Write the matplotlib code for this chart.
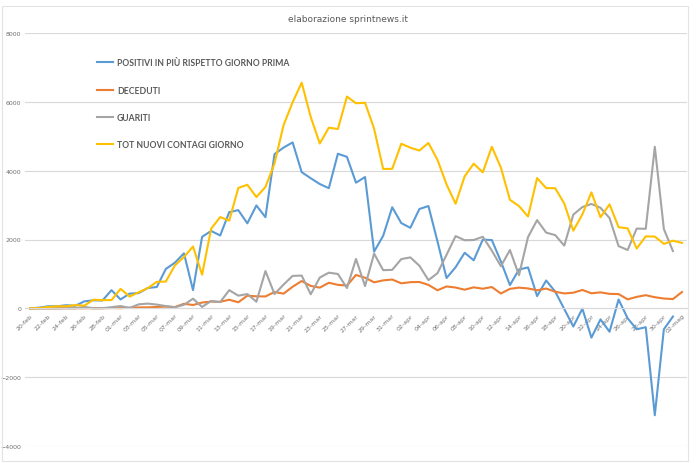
import numpy as np
import matplotlib
matplotlib.use("Agg")
import matplotlib.pyplot as plt
from matplotlib.patches import Rectangle

# date labels 20-feb .. 02-mag (2020)
months = [("feb", 20, 29), ("mar", 1, 31), ("apr", 1, 30), ("mag", 1, 2)]
dates = ["%02d-%s" % (d, m) for m, a, b in months for d in range(a, b + 1)]

# daily series (blue / grey start one slot earlier)
positivi = [0, 20, 60, 60, 90, 74, 203, 233, 228, 528, 258, 428, 443, 590, 620,
            1145, 1326, 1598, 529, 2076, 2249, 2116, 2795, 2853, 2470, 2989,
            2648, 4480, 4670, 4821, 3957, 3780, 3612, 3491, 4492, 4401, 3651,
            3815, 1648, 2107, 2937, 2477, 2339, 2886, 2972, 1941, 880, 1195,
            1615, 1396, 1996, 1984, 1363, 675, 1127, 1189, 355, 809, 486, -20,
            -528, -10, -851, -321, -680, 256, -290, -608, -548, -3106, -608,
            -239]
guariti = [0, 0, 0, 1, 0, 2, 42, 1, 4, 33, 66, 11, 116, 138, 109, 66, 33, 102,
           280, 41, 213, 181, 527, 369, 414, 192, 1084, 415, 689, 943, 952,
           408, 894, 1036, 999, 589, 1434, 646, 1590, 1109, 1118, 1431, 1480,
           1238, 819, 1022, 1555, 2099, 1979, 1985, 2079, 1677, 1224, 1695,
           962, 2072, 2563, 2200, 2128, 1822, 2723, 2943, 3033, 2922, 2622,
           1808, 1696, 2317, 2311, 4693, 2304, 1665]
deceduti = [0, 0, 0, 0, 7, 3, 2, 5, 4, 8, 5, 18, 27, 28, 41, 49, 36, 133, 97,
            168, 196, 189, 250, 175, 368, 349, 345, 475, 427, 627, 793, 651,
            601, 743, 683, 662, 969, 889, 756, 812, 837, 727, 760, 766, 681,
            525, 636, 604, 542, 610, 570, 619, 431, 566, 602, 578, 525, 575,
            482, 433, 454, 534, 437, 464, 420, 415, 260, 333, 382, 323, 285,
            269, 474]
nuovi = [0, 10, 40, 60, 60, 93, 78, 250, 238, 240, 566, 342, 466, 587, 769,
         778, 1247, 1492, 1797, 977, 2313, 2651, 2547, 3497, 3590, 3233, 3526,
         4207, 5322, 5986, 6557, 5560, 4789, 5249, 5210, 6153, 5959, 5974,
         5217, 4050, 4053, 4782, 4668, 4585, 4805, 4316, 3599, 3039, 3836,
         4204, 3951, 4694, 4092, 3153, 2972, 2667, 3786, 3493, 3491, 3047,
         2256, 2729, 3370, 2646, 3021, 2357, 2324, 1739, 2091, 2086, 1872,
         1965, 1900]

labels = ["POSITIVI IN PIÙ RISPETTO GIORNO PRIMA", "DECEDUTI", "GUARITI",
          "TOT NUOVI CONTAGI GIORNO"]
colors = ["#5B9BD5", "#ED7D31", "#A5A5A5", "#FFC000"]

fig = plt.figure(figsize=(6.96, 4.64), dpi=100)
ax = fig.add_axes([25.5 / 696, 1 - 447 / 464, 661 / 696, 413 / 464])

ax.plot(np.arange(len(positivi)), positivi, color=colors[0], lw=1.5, label=labels[0])
ax.plot(np.arange(len(deceduti)), deceduti, color=colors[1], lw=1.5, label=labels[1])
ax.plot(np.arange(len(guariti)), guariti, color=colors[2], lw=1.5, label=labels[2])
ax.plot(np.arange(len(nuovi)), nuovi, color=colors[3], lw=1.5, label=labels[3])

# axis line at zero (done first: moving the spine resets the ticks)
for s in ["top", "right", "left"]:
    ax.spines[s].set_visible(False)
ax.spines["bottom"].set_position(("data", 0))
ax.spines["bottom"].set_color("#D9D9D9")
ax.spines["bottom"].set_linewidth(0.8)

ax.set_xlim(-0.5, len(dates) - 0.5)
ax.set_ylim(-4000, 8000)
ax.set_yticks(range(-4000, 8001, 2000))
ax.grid(axis="y", color="#D9D9D9", lw=0.8)
ax.set_axisbelow(True)

ax.set_xticks(range(0, len(dates), 2))
ax.set_xticklabels(dates[::2], rotation=45, ha="right", rotation_mode="anchor")
ax.tick_params(axis="x", length=0, pad=3, labelsize=4.5, labelcolor="#707070")
ax.tick_params(axis="y", length=0, pad=3, labelsize=4.5, labelcolor="#707070")

fig.text(348 / 696, 1 - 19 / 464, "elaborazione sprintnews.it", ha="center",
         va="center", fontsize=6.5, color="#595959")

leg = ax.legend(loc="upper left", bbox_to_anchor=(97 / 696, 1 - 59.5 / 464),
                bbox_transform=fig.transFigure, frameon=False, borderpad=0,
                borderaxespad=0, handlelength=1.8, handletextpad=0.5,
                labelspacing=2.1, prop={"family": "Lato", "weight": "bold", "size": 6.2})
for t in leg.get_texts():
    t.set_color("#595959")

fig.patches.append(Rectangle((2 / 696, 2 / 464), 686 / 696, 455 / 464,
                             transform=fig.transFigure, fill=False,
                             edgecolor="#E3E3E3", lw=0.8))

fig.savefig("out.png", dpi=100)
